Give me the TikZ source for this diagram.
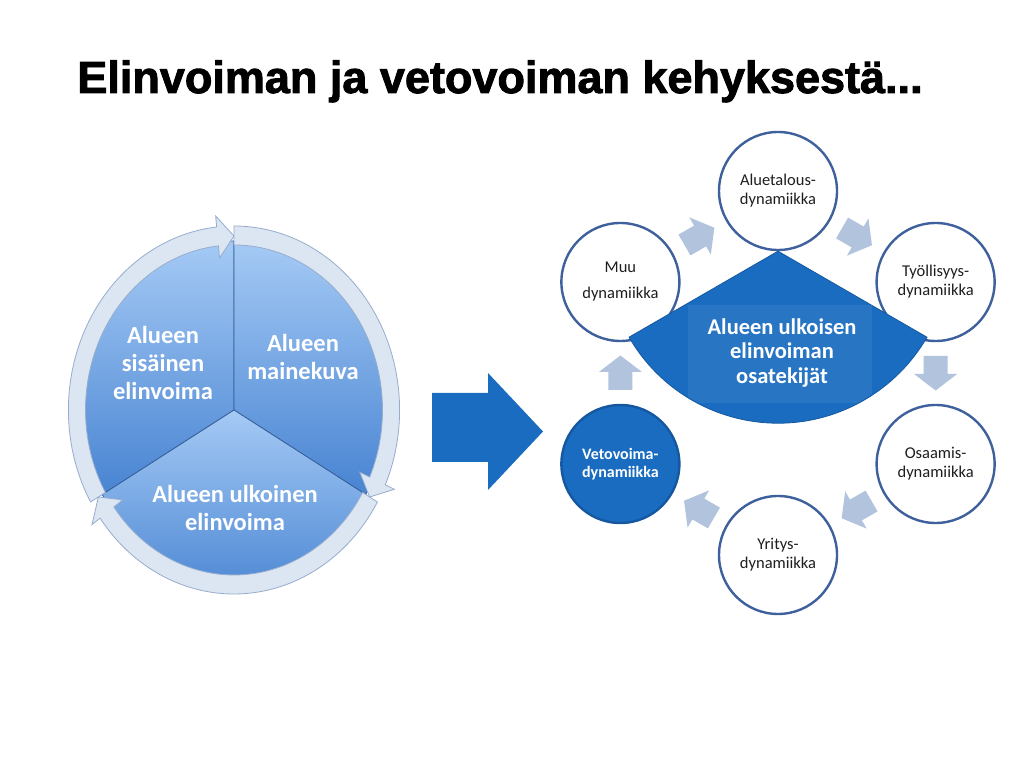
\documentclass[tikz,border=0pt]{standalone}
\usepackage{fontspec}
\setmainfont{Carlito}
\newfontfamily\titlefont{Liberation Sans}[BoldFeatures={FakeBold=2}]
\usetikzlibrary{arrows.meta,positioning,calc}
\definecolor{ringfill}{RGB}{220,230,243}
\definecolor{ringedge}{RGB}{150,172,205}
\definecolor{pielight}{RGB}{165,202,245}
\definecolor{piedark}{RGB}{72,132,210}
\definecolor{pieline}{RGB}{55,95,155}
\definecolor{royal}{RGB}{26,108,192}
\definecolor{royaldark}{RGB}{22,88,160}
\definecolor{slate}{RGB}{62,96,156}
\definecolor{mist}{RGB}{178,195,222}
\definecolor{ink}{RGB}{30,30,30}
\tikzset{
  x=1pt,y=1pt,
  ring/.style={fill=ringfill,draw=ringedge,line width=0.8pt},
  slice/.style={draw=pieline,line width=0.8pt,top color=pielight,bottom color=piedark},
  slice text/.style={text=white,align=center,font=\fontsize{24.5}{28}\selectfont\bfseries},
  dyn/.style={circle,draw=slate,line width=2.4pt,fill=white,minimum size=118pt,
    inner sep=0pt,align=center,text=ink,font=\fontsize{16.5}{19}\selectfont},
  dyn key/.style={dyn,fill=royal,draw=royaldark,text=white,font=\fontsize{16}{18}\selectfont\bfseries},
  fan/.style={fill=royal,draw=royaldark,line width=0.8pt},
  core text/.style={text=white,align=center,font=\fontsize{22.5}{24.5}\selectfont\bfseries},
  % block arrows between the circles
  pics/turn/.style={code={
    \fill[#1] (-17,-12) -- (1,-12) -- (1,-21.5) -- (17.5,0) -- (1,21.5) -- (1,12) -- (-17,12) -- cycle;
  }},
  pics/turn/.default=mist,
}

\begin{document}
\begin{tikzpicture}
  \fill[white] (0,0) rectangle (1024,767);
  \useasboundingbox (0,0) rectangle (1024,767);

  \node[anchor=base,text=black,font=\titlefont\bfseries\fontsize{45}{50}\selectfont] (title) at (500,674)
    {Elinvoiman ja vetovoiman kehyksestä...};

  % pie with ring
  \begin{scope}[shift={(234,357)},xscale=0.9]
    \foreach \a/\b in {90/210,-30/90,210/330}
      \path[slice] (0,0) -- (\a:169) arc[start angle=\a,end angle=\b,radius=169] -- cycle;
    \foreach \a/\b in {210/90,90/-30,-30/-150}
      \path[ring] (\a:184) arc[start angle=\a,end angle={\b+6},radius=184] -- ({\b+6}:195)
        -- (\b:174) -- ({\b+6}:153) -- ({\b+6}:165) arc[start angle={\b+6},end angle=\a,radius=165] -- cycle;
  \end{scope}
  \node[slice text] (inner) at (163,404) {Alueen\\sisäinen\\elinvoima};
  \node[slice text] (image) at (303,410) {Alueen\\mainekuva};
  \node[slice text] (outer) at (235,259) {Alueen ulkoinen\\elinvoima};

  \fill[royal] (432,305) -- (488,305) -- (488,277) -- (543,335.5) -- (488,394) -- (488,374) -- (432,374) -- cycle;

  % hexagon of dynamics
  \coordinate (hub) at (778,394);
  \foreach \n/\ang/\s/\t in {alue/90/dyn/{Aluetalous-\\dynamiikka},tyo/30/dyn/{Työllisyys-\\dynamiikka},
      osa/-30/dyn/{Osaamis-\\dynamiikka},yri/-90/dyn/{Yritys-\\dynamiikka},
      veto/210/dyn key/{Vetovoima-\\dynamiikka},muu/150/dyn/{Muu\\[7pt]dynamiikka}}
    \node[\s] (\n) at ($(hub)+(\ang:182)$) {\t};

  \path[fan] (alue.south) -- ++(210:172) arc[start angle=210,end angle=330,radius=172] -- cycle;
  \begin{scope}
    \clip (alue.south) -- ++(210:171) arc[start angle=210,end angle=330,radius=171] -- cycle;
    \fill[royal!94!white] (688,364) rectangle (872,462);
  \end{scope}
  \node[core text] (core) at (782,414) {Alueen ulkoisen\\elinvoiman\\osatekijät};

  \foreach \a/\b/\r in {muu/alue/30,alue/tyo/-30,tyo/osa/-90,osa/yri/-150,yri/veto/150,veto/muu/90}
    \pic[rotate=\r] at ($(\a)!0.5!(\b)$) {turn};
\end{tikzpicture}
\end{document}
